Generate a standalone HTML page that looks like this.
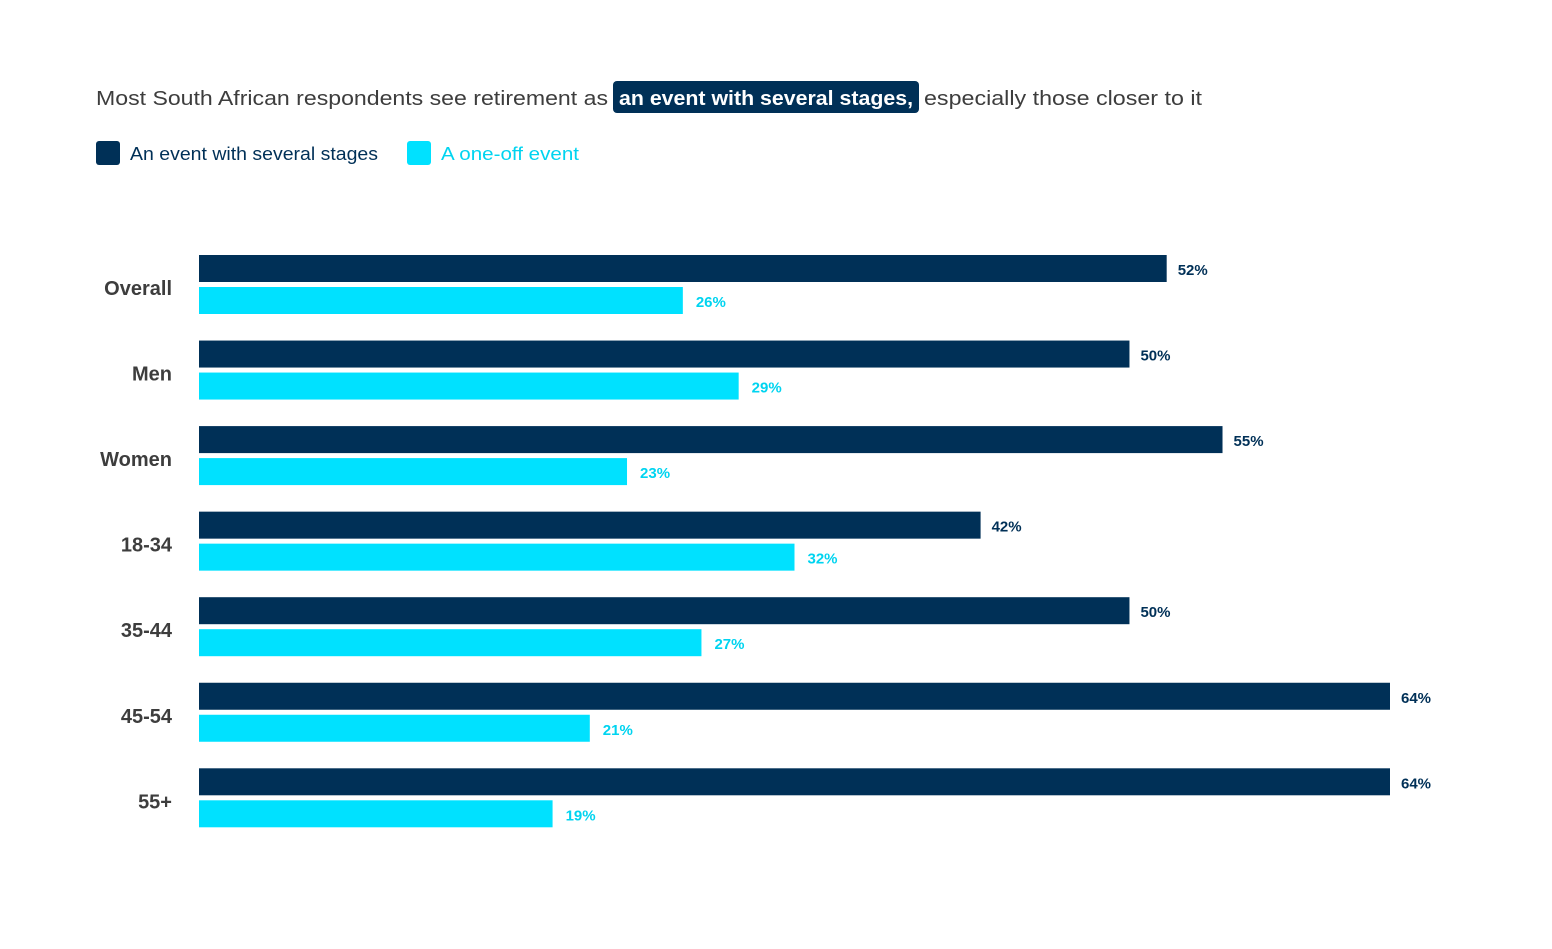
<!DOCTYPE html>
<html><head><meta charset="utf-8"><style>
body{margin:0;background:#fff;}
svg{display:block;font-family:"Liberation Sans",sans-serif;}
</style></head><body>
<svg id="chart" width="1552" height="949" viewBox="0 0 1552 949" xmlns="http://www.w3.org/2000/svg">
<g>
<text x="96" y="105" font-size="20" fill="#3d3d3d" textLength="512" lengthAdjust="spacingAndGlyphs">Most South African respondents see retirement as</text>
<rect x="613" y="81" width="306" height="32" rx="4" fill="#003057"/>
<text x="619" y="105" font-size="20" fill="#fff" font-weight="bold" textLength="294" lengthAdjust="spacingAndGlyphs">an event with several stages,</text>
<text x="924" y="105" font-size="20" fill="#3d3d3d" textLength="278" lengthAdjust="spacingAndGlyphs">especially those closer to it</text>
</g>
<g>
<rect x="96" y="141" width="24" height="24" rx="3" fill="#003057"/>
<text x="130" y="160" font-size="18" fill="#003057" textLength="248" lengthAdjust="spacingAndGlyphs">An event with several stages</text>
<rect x="407" y="141" width="24" height="24" rx="3" fill="#00e1ff"/>
<text x="441" y="160" font-size="18" fill="#00d4f0" textLength="138" lengthAdjust="spacingAndGlyphs">A one-off event</text>
</g>
<g id="bars"></g>
</svg>
<script>
const categories = ["Overall","Men","Women","18-34","35-44","45-54","55+"];
const stagesValues = [52,50,55,42,50,64,64];
const oneOffValues = [26,29,23,32,27,21,19];
const NS = "http://www.w3.org/2000/svg";
const x0 = 199, pxPer = (1390 - 199) / 64;
function xScale(v){ return x0 + v * pxPer; }
function yScale(i){ return 255 + i * 85.55; }
const g = document.getElementById('bars');
function mk(tag, attrs){ const e = document.createElementNS(NS, tag); for (const k in attrs) e.setAttribute(k, attrs[k]); g.appendChild(e); return e; }
categories.forEach((c, i) => {
  const y = yScale(i);
  const lab = mk('text', {x:172, y:y+40, 'font-size':20, 'font-weight':'bold', fill:'#3d3d3d', 'text-anchor':'end'});
  lab.textContent = c;
  
  
  const b1 = mk('rect', {x:x0, y:y, width:xScale(stagesValues[i]) - x0, height:27, fill:'#003057'});
  
  
  const t1 = mk('text', {x:xScale(stagesValues[i]) + 11, y:y+20, 'font-size':15, 'font-weight':'bold', fill:'#003057'});
  t1.textContent = stagesValues[i] + '%';
  
  
  const b2 = mk('rect', {x:x0, y:y+32, width:xScale(oneOffValues[i]) - x0, height:27, fill:'#00e1ff'});
  
  
  const t2 = mk('text', {x:xScale(oneOffValues[i]) + 13, y:y+52, 'font-size':15, 'font-weight':'bold', fill:'#00d4f0'});
  t2.textContent = oneOffValues[i] + '%';
  
  
});
</script>
</body></html>
